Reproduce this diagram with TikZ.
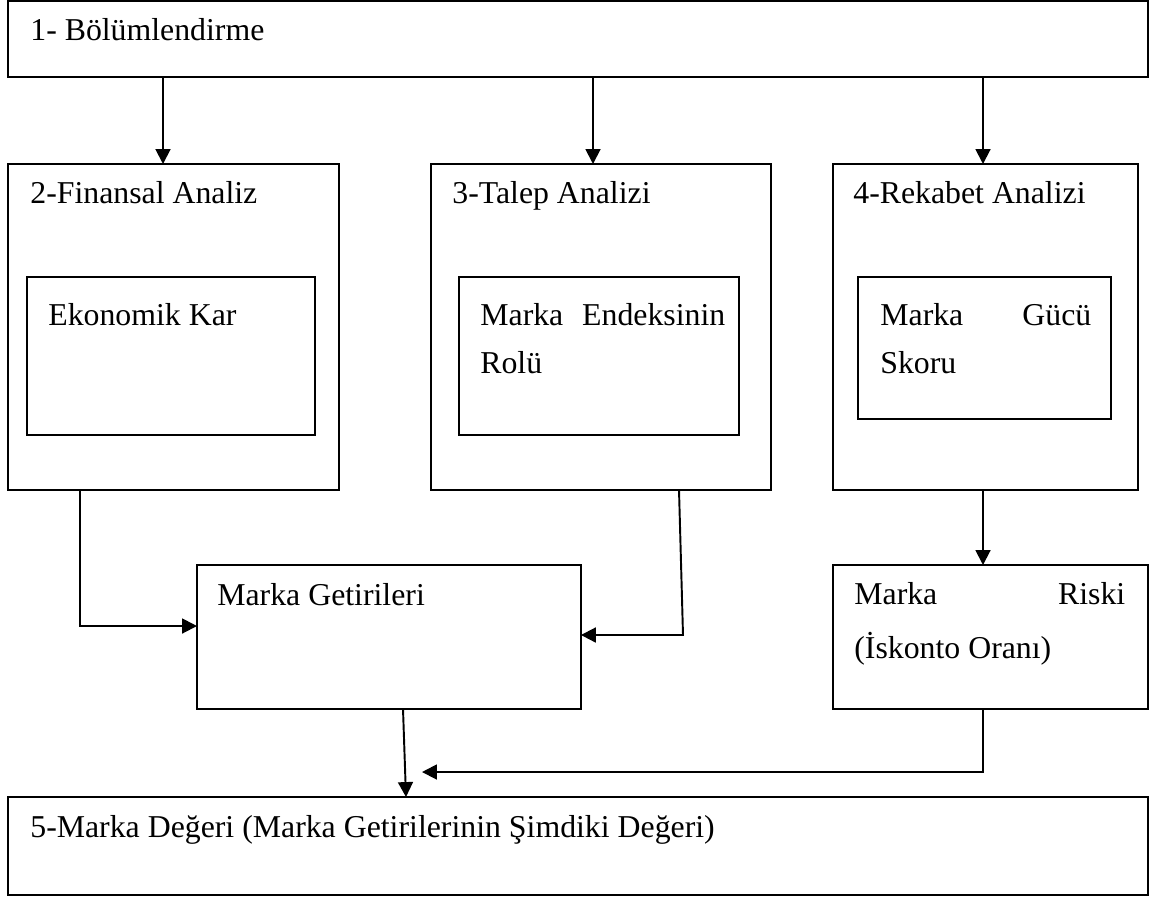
\documentclass[tikz,border=0pt]{standalone}
\usepackage{fontspec}
\setmainfont{Liberation Serif}
\usetikzlibrary{arrows.meta}
\tikzset{
    frame box/.style={
        draw, line width=1.1pt, anchor=north west,
        inner sep=0pt, outer sep=0pt
    },
    box text/.style={
        anchor=base west, inner sep=0pt, align=left,
        font=\fontsize{18.1}{22}\selectfont
    },
    flow line/.style={line width=1.1pt},
    flow arrow/.style={line width=1.1pt, -{Triangle[length=8.5pt, width=8.5pt]}},
}

\begin{document}
\begin{tikzpicture}[x=0.02cm, y=-0.02cm]

    \useasboundingbox (0,0) rectangle (1152,897);

    % boxes
    \node[frame box, minimum width=22.8cm, minimum height=1.52cm] (bolum) at (8,1) {};
    \node[frame box, minimum width=6.62cm, minimum height=6.52cm] (finans) at (8,164) {};
    \node[frame box, minimum width=6.8cm, minimum height=6.52cm] (talep) at (431,164) {};
    \node[frame box, minimum width=6.1cm, minimum height=6.52cm] (rekabet) at (833,164) {};
    \node[frame box, minimum width=5.76cm, minimum height=3.16cm] (ekokar) at (27,277) {};
    \node[frame box, minimum width=5.6cm, minimum height=3.16cm] (endeks) at (459,277) {};
    \node[frame box, minimum width=5.06cm, minimum height=2.84cm] (guc) at (858,277) {};
    \node[frame box, minimum width=7.68cm, minimum height=2.88cm] (getiri) at (197,565) {};
    \node[frame box, minimum width=6.3cm, minimum height=2.88cm] (risk) at (833,565) {};
    \node[frame box, minimum width=22.8cm, minimum height=1.96cm] (deger) at (8,797) {};

    % texts
    \node[box text] (bolumT) at (30,40) {1- Bölümlendirme};
    \node[box text] (finansT) at (30,203) {2-Finansal Analiz};
    \node[box text] (talepT) at (452,203) {3-Talep Analizi};
    \node[box text] (rekabetT) at (853,203) {4-Rekabet Analizi};
    \node[box text] (ekokarT) at (48,325) {Ekonomik Kar};
    \node[box text, text width=4.9cm] (endeksT) at (480,325) {Marka\hfill Endeksinin};
    \node[box text] (endeksTT) at (480,373) {Rolü};
    \node[box text, text width=4.22cm] (gucT) at (880,325) {Marka\hfill Gücü};
    \node[box text] (gucTT) at (880,373) {Skoru};
    \node[box text] (getiriT) at (217,605) {Marka Getirileri};
    \node[box text, text width=5.42cm] (riskT) at (854,604) {Marka\hfill Riski};
    \node[box text] (riskTT) at (854,658) {(İskonto Oranı)};
    \node[box text] (degerT) at (30,837) {5-Marka Değeri (Marka Getirilerinin Şimdiki Değeri)};

    % connector columns and bends
    \coordinate (colA) at (163,0);
    \coordinate (colB) at (593,0);
    \coordinate (colC) at (983,0);
    \coordinate (colD) at (80,0);
    \coordinate (colE) at (679,0);
    \coordinate (bendA) at (80,626);
    \coordinate (bendB) at (683,635);
    \coordinate (colF) at (403,0);
    \coordinate (dropF) at (406,797);
    \coordinate (bendC) at (983,772);
    \coordinate (endC) at (422,772);

    \draw[flow arrow] (colA |- bolum.south) -- (colA |- finans.north);
    \draw[flow arrow] (colB |- bolum.south) -- (colB |- talep.north);
    \draw[flow arrow] (colC |- bolum.south) -- (colC |- rekabet.north);

    \draw[flow arrow] (colD |- finans.south) -- (bendA) -- (getiri.west |- bendA);
    \draw[flow arrow] (colE |- talep.south) -- (bendB) -- (getiri.east |- bendB);
    \draw[flow arrow] (colC |- rekabet.south) -- (colC |- risk.north);

    \draw[flow arrow] (colF |- getiri.south) -- (dropF);
    \draw[flow arrow] (colC |- risk.south) -- (bendC) -- (endC);

\end{tikzpicture}
\end{document}
